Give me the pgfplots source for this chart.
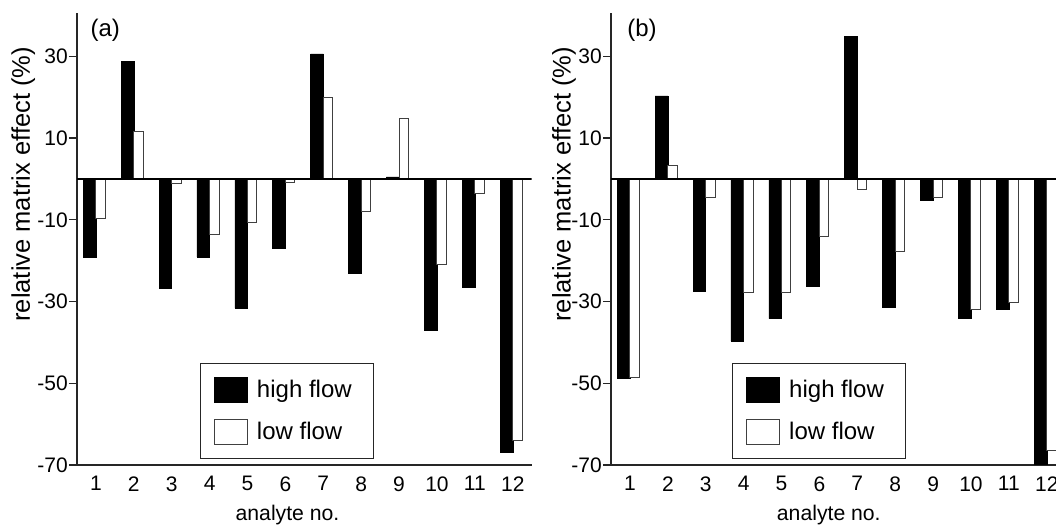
\documentclass[border=0pt]{standalone}
\usepackage{fontspec}
\setmainfont{Liberation Sans}
\usepackage{pgfplots}
\pgfplotsset{compat=1.18}

\pgfplotstableread{
x high low
1 -19.2 -9.7
2 28.8 11.5
3 -26.7 -1.0
4 -19.1 -13.6
5 -31.6 -10.7
6 -17.0 -0.8
7 30.6 19.9
8 -23.2 -8.0
9 0.5 14.9
10 -37.1 -20.9
11 -26.5 -3.6
12 -66.8 -63.9
}\dataA

\pgfplotstableread{
x high low
1 -48.7 -48.6
2 20.3 3.4
3 -27.5 -4.5
4 -39.7 -27.9
5 -34.2 -27.9
6 -26.2 -14.0
7 34.8 -2.7
8 -31.3 -17.8
9 -5.2 -4.5
10 -34.1 -31.9
11 -31.9 -30.2
12 -69.7 -66.4
}\dataB

\pgfplotsset{
  panel/.style={
    scale only axis, width=454.7pt, height=452pt,
    xmin=0.5, xmax=12.5, ymin=-70, ymax=40.6,
    axis x line=bottom, axis y line=left,
    axis line style={-, line width=1.2pt, black!85},
    xtick={1,...,12}, xtick style={draw=none},
    ytick={-70,-50,-30,-10,10,30},
    yticklabels={-70,-50,-30,-10,10,30},
    tick align=outside, major tick length=8pt,
    ytick style={line width=1.2pt, black!85},
    /pgf/number format/assume math mode=true,
    tick label style={font=\fontsize{21}{24}\selectfont},
    yticklabel style={inner xsep=1pt},
    xlabel={analyte no.},
    ylabel={relative matrix effect (\%)},
    xlabel style={font=\fontsize{21.2}{24}\selectfont, anchor=base, yshift=-55.7pt},
    ylabel style={font=\fontsize{25.5}{28}\selectfont, anchor=center, rotate=0},
    legend cell align=left,
    legend image code/.code={\draw[#1, line width=1pt] (0pt,-12.5pt) rectangle (33pt,12.5pt);},
    legend style={anchor=north west, draw=black!85, line width=1pt,
      font=\fontsize{24}{28}\selectfont, inner xsep=13.5pt, inner ysep=13.5pt,
      row sep=16pt,
      nodes={inner xsep=8pt, inner ysep=0pt},
      /tikz/every odd column/.append style={column sep=1pt}},
  },
  hibar/.style={ybar, bar width=0.335, bar shift=-0.1675, fill=black, draw=black, line width=0.5pt},
  lobar/.style={ybar, bar width=0.25, bar shift=0.125, fill=white, draw=black!75, line width=1pt},
}

\begin{document}
\begin{tikzpicture}
\useasboundingbox (0,0) rectangle (1056pt,524pt);

\begin{axis}[panel, at={(77pt,59pt)}, anchor=south west,
  xlabel style={at={(axis description cs:0.463,0)}},
  ylabel style={at={(axis description cs:-0.118,0.621)}},
  legend style={at={(axis description cs:0.2705,0.2263)}}]
\addplot[hibar] table[x=x, y=high] {\dataA};
\addlegendentry{high flow}
\addplot[lobar] table[x=x, y=low] {\dataA};
\addlegendentry{low flow}
\addplot[black, line width=1.3pt, forget plot] coordinates {(0.5,0) (12.5,0)};
\end{axis}

\begin{axis}[panel, at={(611pt,59pt)}, anchor=south west,
  xlabel style={at={(axis description cs:0.479,0)}},
  ylabel style={at={(axis description cs:-0.1033,0.621)}},
  legend style={at={(axis description cs:0.2666,0.2263)}}]
\addplot[hibar] table[x=x, y=high] {\dataB};
\addlegendentry{high flow}
\addplot[lobar] table[x=x, y=low] {\dataB};
\addlegendentry{low flow}
\addplot[black, line width=1.3pt, forget plot] coordinates {(0.5,0) (12.5,0)};
\end{axis}

\node[font=\fontsize{24}{28}\selectfont] at (105.3pt,493.7pt) {(a)};
\node[font=\fontsize{24}{28}\selectfont] at (642pt,493.7pt) {(b)};
\end{tikzpicture}
\end{document}
